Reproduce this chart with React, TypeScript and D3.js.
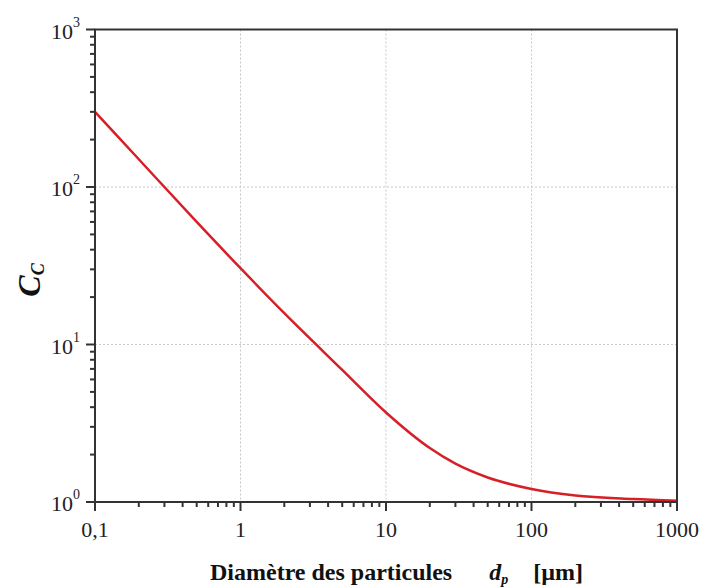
import React from "react";
import * as d3 from "d3";

const diameters = [0.1, 0.2, 0.5, 1, 2, 5, 10, 20, 30, 50, 100, 200, 500, 1000];
const ccValues = [300, 150, 60, 30.5, 15.8, 6.9, 3.7, 2.2, 1.75, 1.43, 1.21, 1.1, 1.045, 1.02];
const xTicks = [0.1, 1, 10, 100, 1000];
const xTickLabels = ["0,1", "1", "10", "100", "1000"];
const yTicks = [1, 10, 100, 1000];
const yTickExp = ["0", "1", "2", "3"];

const W = 701, H = 587;
const L = 95, R = 677, T = 29.5, B = 502;

export default function App() {
  const x = d3.scaleLog().domain([0.1, 1000]).range([L, R]);
  const y = d3.scaleLog().domain([1, 1000]).range([B, T]);
  const line = d3
    .line<number>()
    .x((_, i) => x(diameters[i]))
    .y((d) => y(d))
    .curve(d3.curveMonotoneX);

  const xMinor: number[] = [];
  for (let e = -1; e < 3; e++)
    for (let k = 2; k <= 9; k++) xMinor.push(k * Math.pow(10, e));
  const yMinor: number[] = [];
  for (let e = 0; e < 3; e++)
    for (let k = 2; k <= 9; k++) yMinor.push(k * Math.pow(10, e));

  const font = "'Liberation Serif', 'Times New Roman', serif";
  const axisColor = "#333";

  return (
    <div style={{ position: "absolute", left: 0, top: 0 }}>
      <svg width={W} height={H} style={{ display: "block" }} fontFamily={font}>
        <rect x={0} y={0} width={W} height={H} fill="#fff" />
        {/* grid */}
        {xTicks.slice(1, -1).map((t) => (
          <line key={"gx" + t} x1={x(t)} x2={x(t)} y1={T} y2={B} stroke="#c8c8c8" strokeWidth={1} strokeDasharray="2,2" />
        ))}
        {yTicks.slice(1, -1).map((t) => (
          <line key={"gy" + t} x1={L} x2={R} y1={y(t)} y2={y(t)} stroke="#c8c8c8" strokeWidth={1} strokeDasharray="2,2" />
        ))}
        {/* curve */}
        <path d={line(ccValues) || ""} fill="none" stroke="#d61f26" strokeWidth={2.5} strokeLinejoin="round" />
        {/* frame */}
        <rect x={L} y={T} width={R - L} height={B - T} fill="none" stroke={axisColor} strokeWidth={2} />
        {/* x ticks */}
        {xTicks.map((t) => (
          <line key={"xt" + t} x1={x(t)} x2={x(t)} y1={B} y2={B + 9} stroke={axisColor} strokeWidth={2} />
        ))}
        {xMinor.map((t) => (
          <line key={"xm" + t} x1={x(t)} x2={x(t)} y1={B} y2={B + 5} stroke={axisColor} strokeWidth={2} />
        ))}
        {/* y ticks */}
        {yTicks.map((t) => (
          <line key={"yt" + t} x1={L - 9} x2={L} y1={y(t)} y2={y(t)} stroke={axisColor} strokeWidth={2} />
        ))}
        {yMinor.map((t) => (
          <line key={"ym" + t} x1={L - 5} x2={L} y1={y(t)} y2={y(t)} stroke={axisColor} strokeWidth={2} />
        ))}
        {/* x tick labels */}
        {xTicks.map((t, i) => (
          <text key={"xl" + t} x={x(t)} y={B + 35} textAnchor="middle" fontSize={22} fill="#222">
            {xTickLabels[i]}
          </text>
        ))}
        {/* y tick labels */}
        {yTicks.map((t, i) => (
          <text key={"yl" + t} x={L - 15} y={y(t) + 9} textAnchor="end" fontSize={22} fill="#222">
            10
            <tspan dy={-12} fontSize={14}>{yTickExp[i]}</tspan>
          </text>
        ))}
        {/* y axis title */}
        <text transform={`translate(40, 280) rotate(-90)`} textAnchor="middle" fill="#111" fontWeight="bold" fontStyle="italic">
          <tspan fontSize={32}>C</tspan>
          <tspan fontSize={18} dy={4}>C</tspan>
        </text>
        {/* x axis title */}
        <text x={210} y={580} fontSize={24} fontWeight="bold" fill="#111">
          Diamètre des particules
          <tspan dx={37} fontStyle="italic" fontSize={24}>d</tspan>
          <tspan fontStyle="italic" fontSize={14} dy={4}>p</tspan>
          <tspan dx={25} dy={-4}>[µm]</tspan>
        </text>
      </svg>
    </div>
  );
}
